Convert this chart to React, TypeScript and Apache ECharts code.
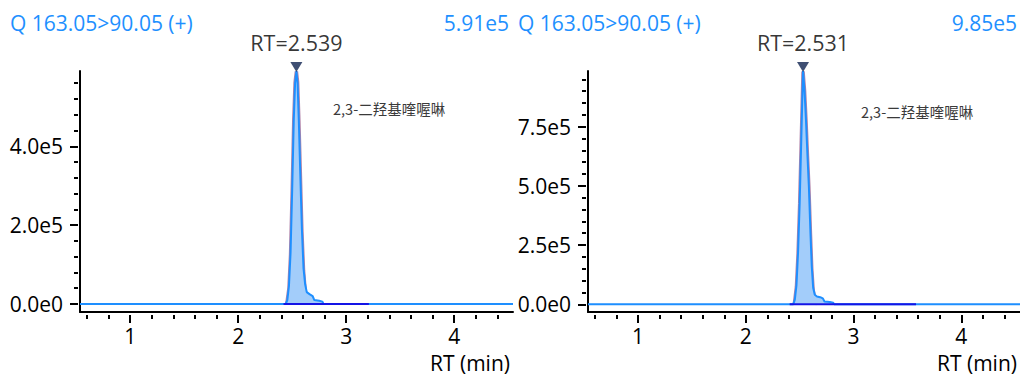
import React, { useEffect, useRef } from "react";
import * as echarts from "echarts";

const FONT = "'Open Sans', 'Noto Sans', sans-serif";
const CJK = "'Noto Sans CJK SC', sans-serif";

// shared x axis
const xRange = [0.535, 4.545];
const xMajorTicks = [1, 2, 3, 4];
const xMinorTicks = [0.6, 0.8, 1.2, 1.4, 1.6, 1.8, 2.2, 2.4, 2.6, 2.8, 3.2, 3.4, 3.6, 3.8, 4.2, 4.4];
const xAxisTitle = "RT (min)";

// left panel
const leftTitle = "Q 163.05>90.05 (+)";
const leftMaxLabel = "5.91e5";
const leftCompound = "2,3-二羟基喹喔啉";
const leftApex = [2.539, 591000];
const leftYRange = [-20300, 591000];
const leftYMajor = [0, 200000, 400000];
const leftYLabels = ["0.0e0", "2.0e5", "4.0e5"];
const leftYMinor = [40000, 80000, 120000, 160000, 240000, 280000, 320000, 360000, 440000, 480000, 520000, 560000];
const leftTime = [0.535, 2.44, 2.455, 2.47, 2.485, 2.5, 2.515, 2.527, 2.539, 2.55, 2.562, 2.575, 2.59, 2.605, 2.62, 2.635, 2.66, 2.69, 2.705, 2.75, 2.78, 2.79, 4.545];
const leftIntensity = [0, 0, 10000, 45000, 130000, 290000, 470000, 560000, 591000, 560000, 460000, 330000, 190000, 90000, 50000, 30000, 25000, 20000, 10000, 8000, 6000, 0, 0];
const leftFitTime = [2.45, 2.47, 2.485, 2.5, 2.515, 2.527, 2.539, 2.55, 2.562, 2.575, 2.59, 2.605, 2.62, 2.64, 2.66];
const leftFitIntensity = [0, 40000, 125000, 285000, 468000, 562000, 590000, 563000, 465000, 335000, 185000, 85000, 35000, 10000, 0];
const leftBaseline = [2.42, 3.21];

// right panel
const rightTitle = "Q 163.05>90.05 (+)";
const rightMaxLabel = "9.85e5";
const rightCompound = "2,3-二羟基喹喔啉";
const rightApex = [2.531, 985000];
const rightYRange = [-32500, 985000];
const rightYMajor = [0, 250000, 500000, 750000];
const rightYLabels = ["0.0e0", "2.5e5", "5.0e5", "7.5e5"];
const rightYMinor = [50000, 100000, 150000, 200000, 300000, 350000, 400000, 450000, 550000, 600000, 650000, 700000, 800000, 850000, 900000, 950000];
const rightTime = [0.535, 2.44, 2.455, 2.47, 2.485, 2.5, 2.515, 2.531, 2.545, 2.558, 2.572, 2.585, 2.6, 2.612, 2.625, 2.64, 2.66, 2.69, 2.715, 2.73, 2.78, 2.81, 2.82, 4.545];
const rightIntensity = [0, 0, 20000, 80000, 220000, 430000, 700000, 985000, 900000, 780000, 630000, 500000, 300000, 160000, 70000, 40000, 33000, 30000, 25000, 12000, 10000, 7000, 0, 0];
const rightFitTime = [2.45, 2.47, 2.485, 2.5, 2.515, 2.531, 2.545, 2.558, 2.572, 2.585, 2.6, 2.612, 2.625, 2.645, 2.665];
const rightFitIntensity = [0, 75000, 215000, 425000, 695000, 983000, 902000, 782000, 628000, 498000, 295000, 150000, 60000, 15000, 0];
const rightBaseline = [2.407, 3.58];

const TRACE = "#1e8fff";
const AREA = "#a3cdfa";
const HEADER = "#1e90ff";
const FS = 21;

function pairs(t: number[], v: number[]) {
  return t.map((x, i) => [x, v[i]]);
}

function buildPanel(p: {
  gi: number;
  yRange: number[];
  yMajor: number[];
  yLabels: string[];
  yMinor: number[];
  time: number[];
  intensity: number[];
  fitTime: number[];
  fitIntensity: number[];
  baseline: number[];
  apex: number[];
}) {
  const xBase = p.gi * 3;
  const yBase = p.gi * 3;
  const xAxes = [
    {
      gridIndex: p.gi, type: "value", position: "bottom", min: xRange[0], max: xRange[1],
      axisLine: { show: true, onZero: false, lineStyle: { color: "#000", width: 2 } },
      axisTick: { show: false }, axisLabel: { show: false }, splitLine: { show: false },
    },
    {
      gridIndex: p.gi, type: "value", position: "bottom", offset: 3, min: xRange[0], max: xRange[1],
      axisLine: { show: false, onZero: false },
      axisTick: { show: true, customValues: xMajorTicks, length: 8, lineStyle: { color: "#000", width: 2 } },
      axisLabel: { show: true, customValues: xMajorTicks, margin: 10, fontSize: FS, fontFamily: FONT, color: "#000" },
      splitLine: { show: false },
    },
    {
      gridIndex: p.gi, type: "value", position: "bottom", offset: 3, min: xRange[0], max: xRange[1],
      axisLine: { show: false, onZero: false },
      axisTick: { show: true, customValues: xMinorTicks, length: 4, lineStyle: { color: "#000", width: 2 } },
      axisLabel: { show: false }, splitLine: { show: false },
    },
  ];
  const yAxes = [
    {
      gridIndex: p.gi, type: "value", position: "left", min: p.yRange[0], max: p.yRange[1],
      axisLine: { show: true, onZero: false, lineStyle: { color: "#000", width: 2 } },
      axisTick: { show: false }, axisLabel: { show: false }, splitLine: { show: false },
    },
    {
      gridIndex: p.gi, type: "value", position: "left", offset: 2, min: p.yRange[0], max: p.yRange[1],
      axisLine: { show: false, onZero: false },
      axisTick: { show: true, customValues: p.yMajor, length: 8, lineStyle: { color: "#000", width: 2 } },
      axisLabel: {
        show: true, customValues: p.yMajor, margin: 15, fontSize: FS, fontFamily: FONT, color: "#000",
        formatter: (v: number) => {
          const i = p.yMajor.indexOf(v);
          return i >= 0 ? p.yLabels[i] : "";
        },
      },
      splitLine: { show: false },
    },
    {
      gridIndex: p.gi, type: "value", position: "left", offset: 2, min: p.yRange[0], max: p.yRange[1],
      axisLine: { show: false, onZero: false },
      axisTick: { show: true, customValues: p.yMinor, length: 4, lineStyle: { color: "#000", width: 2 } },
      axisLabel: { show: false }, splitLine: { show: false },
    },
  ];
  const series = [
    {
      type: "line", xAxisIndex: xBase, yAxisIndex: yBase, data: pairs(p.fitTime, p.fitIntensity),
      symbol: "none", clip: false, z: 2,
      lineStyle: { color: "rgba(150,90,140,0.75)", width: 3.5 },
    },
    {
      type: "line", xAxisIndex: xBase, yAxisIndex: yBase, data: pairs(p.time, p.intensity),
      symbol: "none", clip: false, z: 3,
      lineStyle: { color: TRACE, width: 2 },
      areaStyle: { color: AREA, opacity: 1, origin: 0 },
    },
    {
      type: "line", xAxisIndex: xBase, yAxisIndex: yBase, data: p.baseline.map((t) => [t, 0]),
      symbol: "none", clip: false, z: 4,
      lineStyle: { color: "#1414e6", width: 2 },
    },
    {
      type: "scatter", xAxisIndex: xBase, yAxisIndex: yBase, data: [p.apex],
      symbol: "triangle", symbolRotate: 180, symbolSize: [12, 10], symbolOffset: [0, -4],
      itemStyle: { color: "#0f2350" }, z: 5, clip: false,
      label: {
        show: true, position: "top", distance: 9, fontSize: 21.5, fontFamily: FONT, color: "#000",
        formatter: () => "RT=" + p.apex[0].toFixed(3),
      },
    },
  ];
  return { xAxes, yAxes, series };
}

export default function App() {
  const ref = useRef<HTMLDivElement>(null);
  useEffect(() => {
    if (!ref.current) return;
    const chart = echarts.init(ref.current, undefined, { renderer: "svg" });
    const L = buildPanel({
      gi: 0, yRange: leftYRange, yMajor: leftYMajor, yLabels: leftYLabels, yMinor: leftYMinor,
      time: leftTime, intensity: leftIntensity, fitTime: leftFitTime, fitIntensity: leftFitIntensity,
      baseline: leftBaseline, apex: leftApex,
    });
    const R = buildPanel({
      gi: 1, yRange: rightYRange, yMajor: rightYMajor, yLabels: rightYLabels, yMinor: rightYMinor,
      time: rightTime, intensity: rightIntensity, fitTime: rightFitTime, fitIntensity: rightFitIntensity,
      baseline: rightBaseline, apex: rightApex,
    });
    const txt = (text: string, x: number, y: number, fill: string, size: number, align: string, family = FONT) => ({
      type: "text", x, y, silent: true,
      style: { text, fill, fontSize: size, fontFamily: family, align, verticalAlign: "middle", lineHeight: size },
    });
    chart.setOption({
      animation: false,
      backgroundColor: "#fff",
      grid: [
        { left: 80, top: 71, width: 433, height: 241 },
        { left: 588, top: 71, width: 432, height: 241 },
      ],
      xAxis: [...L.xAxes, ...R.xAxes],
      yAxis: [...L.yAxes, ...R.yAxes],
      series: [...L.series, ...R.series],
      graphic: [
        txt(leftTitle, 10, 23, HEADER, FS, "left"),
        txt(leftMaxLabel, 509, 23, HEADER, FS, "right"),
        txt(rightTitle, 518, 23, HEADER, FS, "left"),
        txt(rightMaxLabel, 1017, 23, HEADER, FS, "right"),
        txt(leftCompound, 333, 108, "#3a3a3a", 14.5, "left", CJK),
        txt(rightCompound, 861, 111, "#3a3a3a", 14.5, "left", CJK),
        txt(xAxisTitle, 510, 363, "#000", FS, "right"),
        txt(xAxisTitle, 1017, 363, "#000", FS, "right"),
      ],
    });
    return () => chart.dispose();
  }, []);
  return (
    <div
      ref={ref}
      style={{ position: "fixed", left: 0, top: 0, width: 1020, height: 376, background: "#fff" }}
    />
  );
}
